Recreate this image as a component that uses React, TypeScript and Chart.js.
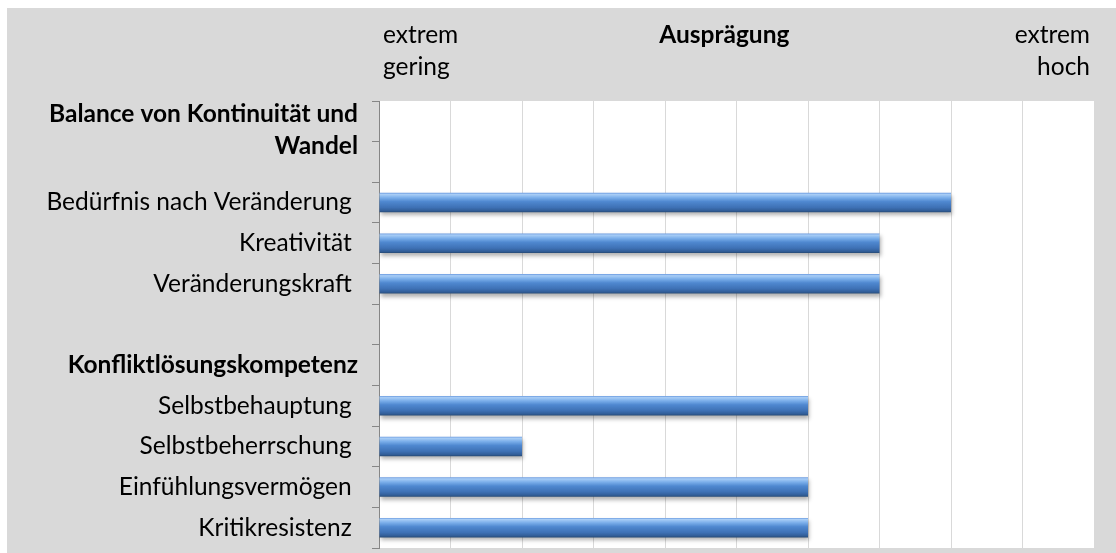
import React, { useEffect, useRef } from 'react';
import { Chart, registerables } from 'chart.js';

Chart.register(...registerables);

// ---------- data ----------
const categories: (string | string[])[] = [
  '',
  ['Balance von Kontinuität und', 'Wandel'],
  'Bedürfnis nach Veränderung ',
  'Kreativität ',
  'Veränderungskraft ',
  '',
  'Konfliktlösungskompetenz',
  'Selbstbehauptung ',
  'Selbstbeherrschung ',
  'Einfühlungsvermögen ',
  'Kritikresistenz ',
];
const headerRows = [1, 6];
const values: (number | null)[] = [null, null, 8, 7, 7, null, null, 6, 2, 6, 6];
const scaleMin = 0;
const scaleMax = 10;
const scaleStep = 1;
const lowLabel = ['extrem', 'gering'];
const axisTitle = 'Ausprägung';
const highLabel = ['extrem', 'hoch'];

// ---------- styles ----------
const FONT = 'Lato, "Open Sans", sans-serif';
const FONT_SIZE = 24.5;
const LINE_H = 32;
const GRAY_BG = '#d9d9d9';

const backgroundPlugin = {
  id: 'bgPlugin',
  beforeDraw(chart: any) {
    const { ctx, chartArea, width, height } = chart;
    ctx.save();
    ctx.fillStyle = GRAY_BG;
    ctx.fillRect(0, 0, width, height);
    ctx.fillStyle = '#ffffff';
    ctx.fillRect(chartArea.left, chartArea.top, chartArea.right - chartArea.left, chartArea.bottom - chartArea.top);
    ctx.restore();
  },
  beforeDatasetsDraw(chart: any) {
    const ctx = chart.ctx;
    ctx.save();
    ctx.shadowColor = 'rgba(0,0,0,0.30)';
    ctx.shadowBlur = 4;
    ctx.shadowOffsetY = 3;
    ctx.shadowOffsetX = 1;
  },
  afterDatasetsDraw(chart: any) {
    chart.ctx.restore();
  },
  afterDraw(chart: any) {
    const { ctx, chartArea } = chart;
    ctx.save();
    ctx.fillStyle = '#000';
    ctx.textBaseline = 'middle';
    const y1 = 27;
    ctx.font = `normal ${FONT_SIZE}px ${FONT}`;
    ctx.textAlign = 'left';
    lowLabel.forEach((t, i) => ctx.fillText(t, chartArea.left + 4, y1 + i * LINE_H));
    ctx.textAlign = 'right';
    highLabel.forEach((t, i) => ctx.fillText(t, chartArea.right - 4, y1 + i * LINE_H));
    ctx.font = `bold ${FONT_SIZE}px ${FONT}`;
    ctx.textAlign = 'center';
    ctx.fillText(axisTitle, chartArea.left + chartArea.width * 0.483, y1);
    ctx.restore();
  },
};

function barGradient(c: any) {
  const chart = c.chart;
  const ys = chart.scales && chart.scales.y;
  if (!ys || c.type !== 'data' || !chart.chartArea) return '#4a7fc7';
  const center = ys.getPixelForValue(c.dataIndex);
  const slot = ys.height / categories.length;
  const t = slot * 0.48;
  const g = chart.ctx.createLinearGradient(0, center - t / 2, 0, center + t / 2);
  g.addColorStop(0, '#6b9be0');
  g.addColorStop(0.08, '#a8cdf6');
  g.addColorStop(0.25, '#7aaeea');
  g.addColorStop(0.45, '#4f88d0');
  g.addColorStop(0.75, '#3e71b5');
  g.addColorStop(0.92, '#315d97');
  g.addColorStop(1, '#264a75');
  return g;
}

export default function App() {
  const ref = useRef<HTMLCanvasElement | null>(null);
  useEffect(() => {
    if (!ref.current) return;
    const chart = new Chart(ref.current, {
      type: 'bar',
      data: {
        labels: categories as any,
        datasets: [
          {
            data: values,
            backgroundColor: barGradient,
            borderWidth: 0,
            barPercentage: 0.48,
            categoryPercentage: 1,
          },
        ],
      },
      plugins: [backgroundPlugin],
      options: {
        indexAxis: 'y',
        animation: false,
        responsive: true,
        maintainAspectRatio: false,
        layout: { padding: { top: 93, right: 22, bottom: 5, left: 0 } },
        plugins: { legend: { display: false }, tooltip: { enabled: false } },
        scales: {
          x: {
            type: 'linear',
            position: 'top',
            min: scaleMin,
            max: scaleMax,
            ticks: { stepSize: scaleStep, display: false },
            grid: { color: '#d9d9d9', lineWidth: 1, drawTicks: false },
            border: { display: false },
            afterFit: (s: any) => {
              s.height = 0;
              s.paddingLeft = 0;
              s.paddingRight = 0;
            },
          },
          y: {
            type: 'category',
            grid: {
              drawOnChartArea: false,
              drawTicks: true,
              tickLength: 7,
              color: '#868686',
              offset: true,
            },
            border: { display: true, color: '#868686', width: 1 },
            ticks: {
              autoSkip: false,
              padding: 14,
              color: '#000',
              font: (c: any) => ({
                family: FONT,
                size: FONT_SIZE,
                weight: headerRows.includes(c.index) ? 'bold' : 'normal',
                lineHeight: LINE_H / FONT_SIZE,
              }),
              callback: (_v: any, i: number) => {
                const l = categories[i];
                if (Array.isArray(l)) return [...l, ...l.map(() => '')];
                return l;
              },
            },
            afterFit: (s: any) => {
              s.width = 372;
              s.paddingTop = 0;
              s.paddingBottom = 0;
            },
          },
        },
      },
    });
    return () => chart.destroy();
  }, []);
  return (
    <div style={{ position: 'fixed', left: 7, top: 8, width: 1109, height: 545 }}>
      <canvas ref={ref} />
    </div>
  );
}
